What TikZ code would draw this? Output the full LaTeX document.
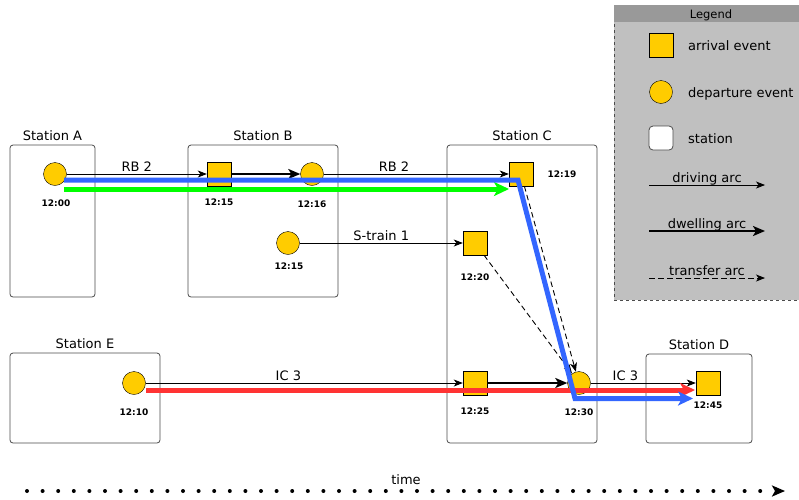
\documentclass[tikz,border=0pt]{standalone}
\usepackage{fontspec}
\setmainfont{DejaVu Sans}
\usetikzlibrary{arrows.meta}
\definecolor{evyellow}{HTML}{FFCC00}
\definecolor{routeblue}{HTML}{3366FF}
\definecolor{routegreen}{HTML}{00FF00}
\definecolor{routered}{HTML}{FF3333}
\definecolor{legendgray}{HTML}{C0C0C0}
\definecolor{legendhead}{HTML}{999999}

\tikzset{
  arrival/.style={draw=black, fill=evyellow, minimum size=24pt, inner sep=0pt},
  departure/.style={circle, draw=black, fill=evyellow, minimum size=23pt, inner sep=0pt},
  station/.style={draw=black!70, fill=white, rounded corners=3pt, line width=0.8pt, inner sep=0pt,
    label distance=3.5pt},
  evtime/.style={anchor=base, inner sep=0pt, font=\fontsize{9}{10}\selectfont\bfseries},
  driving/.style={-{Stealth[length=9pt,width=7pt,inset=2.5pt]}, line width=0.8pt},
  dwelling/.style={-{Stealth[length=12pt,width=10pt,inset=3pt]}, line width=2.6pt},
  transfer/.style={-{Stealth[length=9pt,width=7pt,inset=2.5pt]}, line width=0.9pt, dash pattern=on 5.5pt off 3.5pt},
  route/.style={line width=5pt, -{Stealth[length=15pt,width=14pt,inset=4pt]}},
  arclabel/.style={midway, anchor=base, yshift=2.5pt, inner sep=0pt}
}

\begin{document}
\begin{tikzpicture}[x=1pt, y=-1pt, font=\fontsize{13}{15}\selectfont]
    \useasboundingbox (0,0) rectangle (799,499);

    % stations
    \node[station, minimum width=85pt, minimum height=152pt, label=above:Station A] (stA) at (52.5,221) {};
    \node[station, minimum width=150pt, minimum height=152pt, label=above:Station B] (stB) at (263,221) {};
    \node[station, minimum width=150pt, minimum height=298pt, label=above:Station C] (stC) at (522,294) {};
    \node[station, minimum width=150pt, minimum height=90pt, label=above:Station E] (stE) at (85,398) {};
    \node[station, minimum width=106pt, minimum height=89pt, label=above:Station D] (stD) at (699,398.5) {};

    % events
    \node[departure] (depA) at (55,174) {};
    \node[arrival] (arrB) at (219,174) {};
    \node[departure] (depB) at (312,174) {};
    \node[departure] (depBs) at (288,243) {};
    \node[arrival] (arrC1) at (521,174) {};
    \node[arrival] (arrC2) at (475,243) {};
    \node[arrival] (arrC3) at (475,383) {};
    \node[departure] (depC) at (579,383) {};
    \node[departure] (depE) at (134,383) {};
    \node[arrival] (arrD) at (708,383) {};

    % event times
    \node[evtime] (tdepA) at (56,206) {12:00};
    \node[evtime] (tarrB) at (219,205) {12:15};
    \node[evtime] (tdepB) at (312,207) {12:16};
    \node[evtime] (tdepBs) at (289,269) {12:15};
    \node[evtime] (tarrC1) at (562,177) {12:19};
    \node[evtime] (tarrC2) at (475,280) {12:20};
    \node[evtime] (tarrC3) at (475,414) {12:25};
    \node[evtime] (tdepC) at (579,415) {12:30};
    \node[evtime] (tdepE) at (134,415) {12:10};
    \node[evtime] (tarrD) at (708,408) {12:45};

    % arcs
    \path
    (depA) edge[driving] node[arclabel]{RB 2} (arrB)
    (arrB) edge[dwelling] (depB)
    (depB) edge[driving] node[arclabel, pos=0.38]{RB 2} (arrC1)
    (depBs) edge[driving] node[arclabel]{S-train 1} (arrC2)
    (depE) edge[driving] node[arclabel, pos=0.45]{IC 3} (arrC3)
    (arrC3) edge[dwelling] (depC)
    (depC) edge[driving] node[arclabel, pos=0.33]{IC 3} (arrD)
    (arrC1) edge[transfer] (depC)
    (arrC2) edge[transfer] (depC);

    % passenger routes
    \coordinate (redS) at (146,390);
    \coordinate (redE) at (695,390);
    \coordinate (greenS) at (64,189);
    \coordinate (greenE) at (509,189);
    \coordinate (blueS) at (64,180);
    \coordinate (blueT) at (518,180);
    \coordinate (blueB) at (575,398.5);
    \coordinate (blueE) at (693,398.5);
    \draw[route, routered] (redS) -- (redE);
    \draw[route, routegreen] (greenS) -- (greenE);
    \draw[route, routeblue] (blueS) -- (blueT) -- (blueB) -- (blueE);

    % legend
    \node[draw=black!70, dashed, fill=legendgray, minimum width=194pt, minimum height=295pt,
      anchor=north west, inner sep=0pt] (legend) at (614,5) {};
    \fill[legendhead] (614.4,5.4) rectangle (807.6,22);
    \node[anchor=base, inner sep=0pt, font=\fontsize{11.5}{13}\selectfont] (legtitle) at (711,18) {Legend};
    \node[arrival] (legarr) at (661,45) {};
    \node[departure] (legdep) at (661,92) {};
    \node[station, minimum size=24pt, rounded corners=4pt] (legst) at (661,138) {};
    \node[anchor=base west, inner sep=0pt] (legarrtxt) at (688,50) {arrival event};
    \node[anchor=base west, inner sep=0pt] (legdeptxt) at (688,97) {departure event};
    \node[anchor=base west, inner sep=0pt] (legsttxt) at (688,143) {station};
    \coordinate (drvS) at (649,185);
    \coordinate (drvE) at (765,185);
    \coordinate (dwlS) at (649,231);
    \coordinate (dwlE) at (765,231);
    \coordinate (trfS) at (649,278);
    \coordinate (trfE) at (765,278);
    \path
    (drvS) edge[driving] node[arclabel]{driving arc} (drvE)
    (dwlS) edge[dwelling] node[arclabel]{dwelling arc} (dwlE)
    (trfS) edge[transfer] node[arclabel]{transfer arc} (trfE);

    % time axis
    \coordinate (timeS) at (27,491);
    \coordinate (timeE) at (785,491);
    \draw[line width=4pt, line cap=round, dash pattern=on 0pt off 15.6pt,
      -{Stealth[length=13pt,width=11pt,inset=3pt]}] (timeS) -- (timeE)
      node[midway, anchor=base, yshift=7pt, inner sep=0pt] {time};
\end{tikzpicture}
\end{document}
